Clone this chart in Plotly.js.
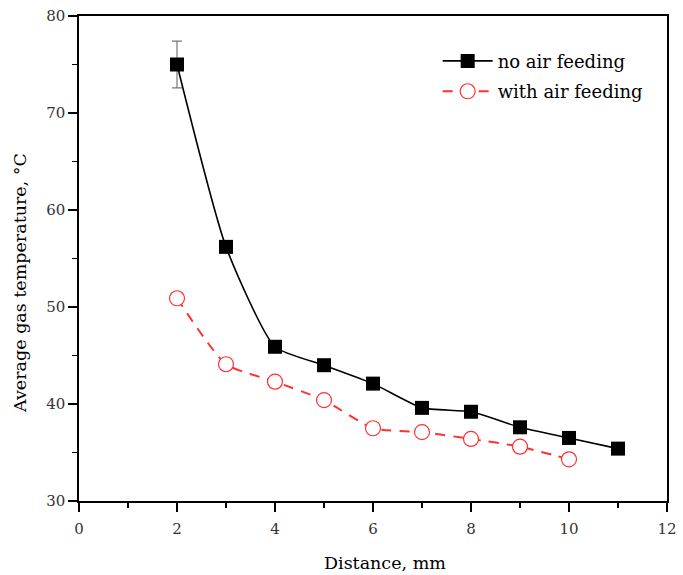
<!DOCTYPE html>
<html>
<head>
<meta charset="utf-8">
<script src="https://cdn.plot.ly/plotly-3.0.1.min.js"></script>
<style>html,body{margin:0;padding:0;background:#fff;}#chart{width:683px;height:575px;}</style>
</head>
<body>
<div id="chart"></div>
<script>
const distance = [2, 3, 4, 5, 6, 7, 8, 9, 10, 11];
const noAirTemp = [75.0, 56.2, 45.9, 44.0, 42.1, 39.6, 39.2, 37.6, 36.5, 35.4];
const noAirErr = [2.4, 0, 0, 0, 0, 0, 0, 0, 0, 0];
const distanceAir = [2, 3, 4, 5, 6, 7, 8, 9, 10];
const withAirTemp = [50.9, 44.1, 42.3, 40.4, 37.5, 37.1, 36.4, 35.6, 34.3];
const seriesNames = ["no air feeding", "with air feeding"];
const xTicks = [0, 2, 4, 6, 8, 10, 12];
const yTicks = [30, 40, 50, 60, 70, 80];
const xTitle = "Distance, mm";
const yTitle = "Average gas temperature, °C";

const fontFam = "DejaVu Serif, serif";

const traces = [
  {
    x: distance, y: noAirTemp, name: seriesNames[0], legendgroup: "a", type: "scatter", mode: "lines+markers",
    line: {color: "#000", width: 1.6, shape: "spline", smoothing: 0.55},
    marker: {symbol: "square", size: 14, color: "#000"},
    error_y: {type: "data", array: noAirErr, visible: true, color: "#777", thickness: 1.2, width: 5}
  },
  {
    x: distanceAir, y: withAirTemp, name: seriesNames[1], legendgroup: "b", type: "scatter", mode: "lines+markers",
    line: {color: "#ff3030", width: 2, dash: "10px,8px", shape: "spline", smoothing: 0.55},
    marker: {symbol: "circle", size: 15, color: "#fff", line: {width: 1.2, color: "#ff3030"}}
  }
];

const axisCommon = {
  showgrid: false, zeroline: false, showline: true, linecolor: "#000", linewidth: 1.6,
  mirror: true, ticks: "outside", ticklen: 9, tickwidth: 1.6, tickcolor: "#000",
  tickfont: {family: fontFam, size: 15, color: "#333"}
};

const layout = {
  width: 683, height: 575,
  margin: {l: 79, r: 16, t: 16, b: 74},
  paper_bgcolor: "#fff", plot_bgcolor: "#fff",
  showlegend: true,
  legend: {x: 0.61, y: 0.945, xanchor: "left", yanchor: "top", bgcolor: "rgba(0,0,0,0)",
           font: {family: fontFam, size: 18, color: "#000"}, itemwidth: 50,
           traceorder: "grouped", tracegroupgap: 4},
  xaxis: Object.assign({}, axisCommon, {
    range: [0, 12], tickvals: xTicks, ticktext: xTicks.map(String), ticklabelstandoff: 4,
    minor: {dtick: 1, ticks: "outside", ticklen: 5, tickwidth: 1.6, tickcolor: "#000"},
    title: {text: ""}
  }),
  yaxis: Object.assign({}, axisCommon, {
    range: [30, 80], tickvals: yTicks, ticktext: yTicks.map(String),
    minor: {dtick: 5, ticks: "outside", ticklen: 5, tickwidth: 1.6, tickcolor: "#000"},
    title: {text: ""}
  }),
  annotations: [
    {
      text: yTitle, xref: "paper", yref: "paper", x: -0.1, y: 0.45,
      xanchor: "center", yanchor: "middle", textangle: -90, showarrow: false,
      font: {family: fontFam, size: 17.5, color: "#000"}
    },
    {
      text: xTitle, xref: "paper", yref: "paper", x: 0.52, y: -0.128,
      xanchor: "center", yanchor: "middle", showarrow: false,
      font: {family: fontFam, size: 17.5, color: "#000"}
    }
  ]
};

Plotly.newPlot("chart", traces, layout, {displayModeBar: false, staticPlot: true});
</script>
</body>
</html>
